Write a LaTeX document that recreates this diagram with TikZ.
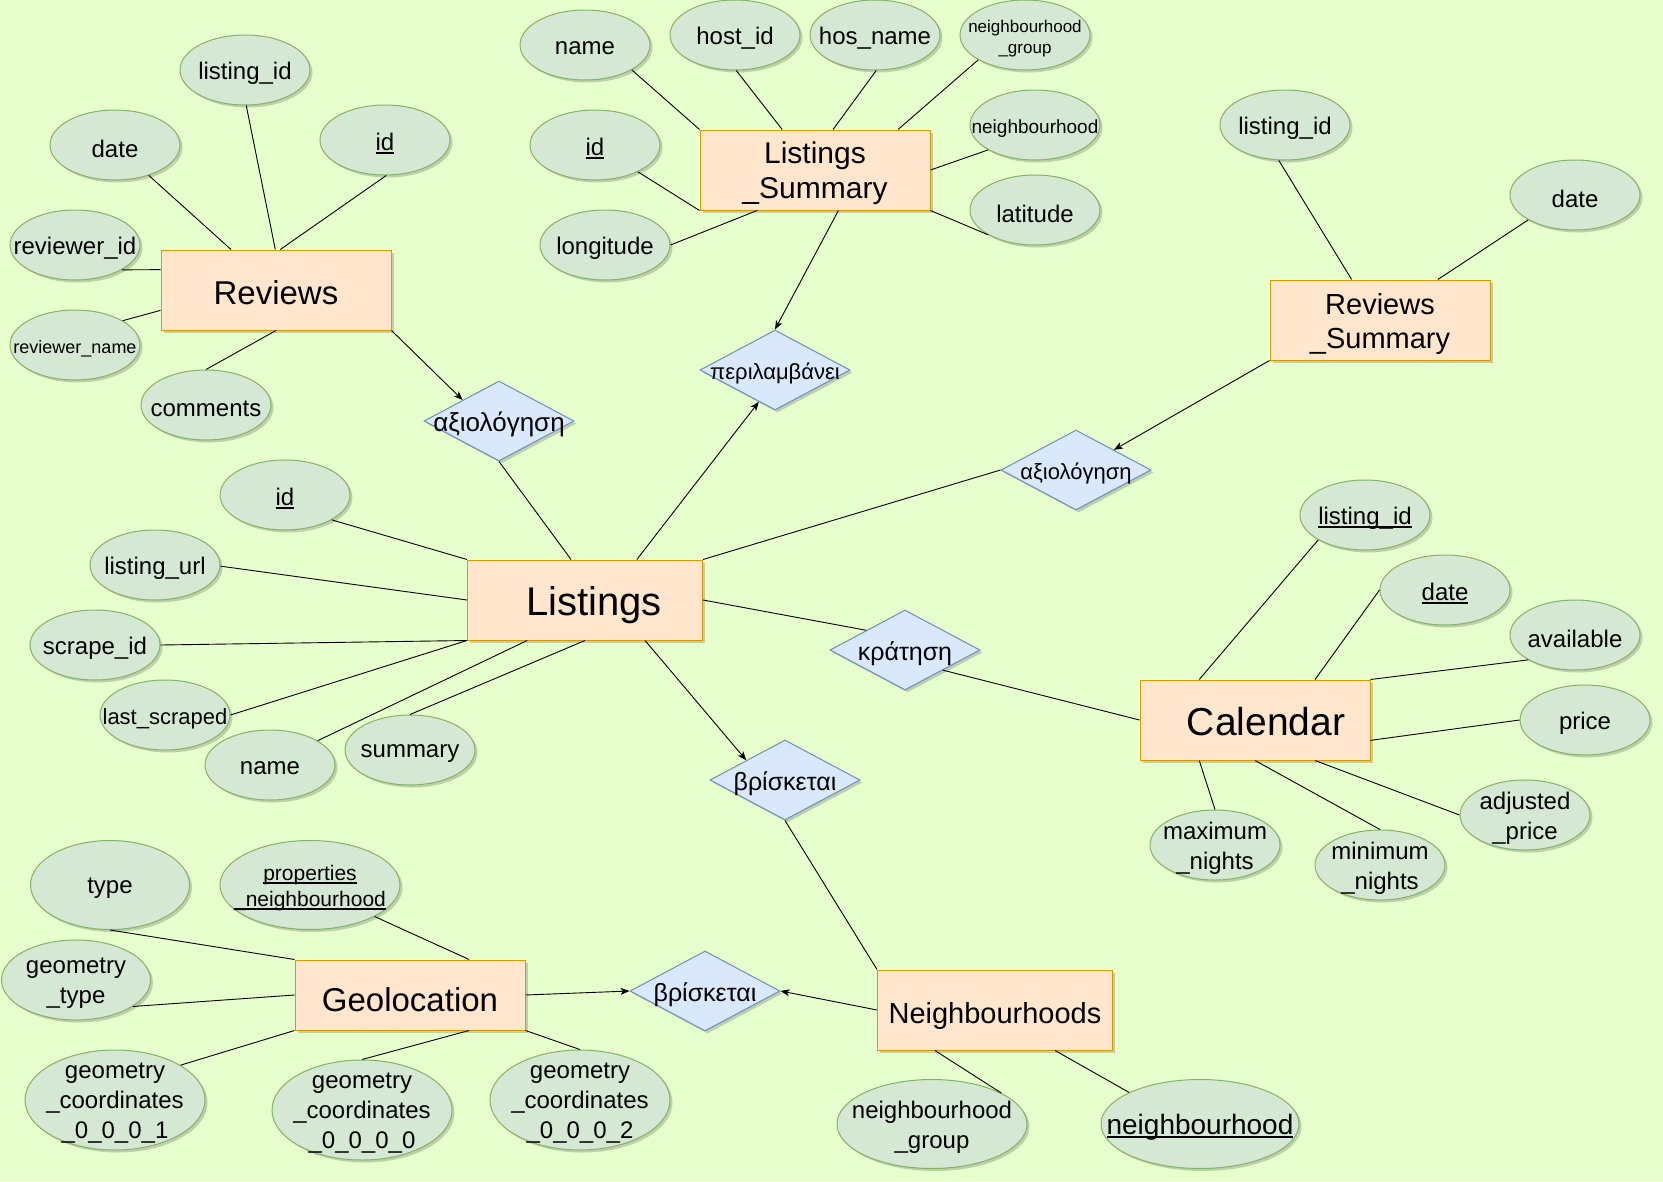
\documentclass[tikz,border=0pt]{standalone}
\usepackage{fontspec}
\setmainfont{Liberation Sans}
\usetikzlibrary{shapes.geometric,arrows.meta,shadows}

\definecolor{bgcol}{HTML}{E6FFCC}
\definecolor{attrfill}{HTML}{D5E8D4}
\definecolor{attrline}{HTML}{82B366}
\definecolor{entfill}{HTML}{FFE6CC}
\definecolor{entline}{HTML}{D79B00}
\definecolor{relfill}{HTML}{DAE8FC}
\definecolor{relline}{HTML}{6C8EBF}

\newcommand{\fsz}[2]{\fontsize{#1}{#2}\selectfont}
% underline at a fixed depth below the baseline
\newsavebox{\undlbox}
\newcommand{\undl}[1]{\sbox{\undlbox}{#1}\rlap{\rule[-0.13em]{\wd\undlbox}{0.07em}}\usebox{\undlbox}}

\tikzset{
  softshadow/.style={drop shadow={shadow xshift=2.5pt, shadow yshift=-2.5pt, fill=black, opacity=0.18}},
  attr/.style={ellipse, draw=attrline, fill=attrfill, line width=1pt,
    minimum width=130pt, minimum height=70pt, inner sep=0pt, softshadow},
  ent/.style={rectangle, draw=entline, fill=entfill, line width=1pt,
    minimum width=230pt, minimum height=80pt, inner sep=0pt, softshadow},
  rel/.style={diamond, draw=relline, fill=relfill, line width=1pt,
    minimum width=150pt, minimum height=80pt, inner sep=0pt, softshadow},
  every label/.style={font=\fsz{24}{30}, align=center, inner sep=0pt, text=black, yshift=-3.5pt},
  link/.style={draw=black, line width=0.9pt},
  arr/.style={link, -{Stealth[length=9pt, width=7pt, inset=2.5pt]}}
}

\begin{document}
\begin{tikzpicture}[x=1pt, y=-1pt]
\useasboundingbox (0,0) rectangle (1663,1181);
\fill[bgcol] (0,0) rectangle (1663,1181);

% ---------- Reviews ----------
\node[ent, label={[font=\fsz{33}{38}, yshift=0.5pt]center:Reviews}] (rev) at (276,290) {};
\node[attr, label={center:listing\_id}] (rev-lid) at (245,70) {};
\node[attr, label={center:date}] (rev-date) at (115,145) {};
\node[attr, label={center:\undl{id}}] (rev-id) at (385,140) {};
\node[attr, label={center:reviewer\_id}] (rev-rid) at (75,245) {};
\node[attr, label={[font=\fsz{18}{21}]center:reviewer\_name}] (rev-rname) at (75,345) {};
\node[attr, label={center:comments}] (rev-com) at (206,405) {};

% ---------- Listings_Summary ----------
\node[ent, label={[font=\fsz{30}{35}]center:Listings\\\_Summary}] (lsum) at (815,170) {};
\node[attr, label={center:name}] (ls-name) at (585,45) {};
\node[attr, label={center:host\_id}] (ls-host) at (735,35) {};
\node[attr, label={center:hos\_name}] (ls-hos) at (875,35) {};
\node[attr, label={[font=\fsz{17}{21}]center:neighbourhood\\\_group}] (ls-ngroup) at (1025,35) {};
\node[attr, label={[font=\fsz{19}{22}]center:neighbourhood}] (ls-nbhd) at (1035,125) {};
\node[attr, label={center:latitude}] (ls-lat) at (1035,210) {};
\node[attr, label={center:\undl{id}}] (ls-id) at (595,145) {};
\node[attr, label={center:longitude}] (ls-lon) at (605,245) {};

% ---------- Reviews_Summary ----------
\node[ent, minimum width=220pt, label={[font=\fsz{29}{34}]center:Reviews\\\_Summary}] (rsum) at (1380,320) {};
\node[attr, label={center:listing\_id}] (rs-lid) at (1285,125) {};
\node[attr, label={center:date}] (rs-date) at (1575,195) {};

% ---------- relationships ----------
\node[rel, label={[font=\fsz{22}{26}]center:περιλαμβάνει}] (incl) at (775,370) {};
\node[rel, label={[font=\fsz{26}{30}]center:αξιολόγηση}] (rate1) at (499,421) {};
\node[rel, label={[font=\fsz{22}{26}]center:αξιολόγηση}] (rate2) at (1076,470) {};
\node[rel, label={[font=\fsz{25}{29}]center:κράτηση}] (book) at (905,650) {};
\node[rel, label={[font=\fsz{25}{29}]center:βρίσκεται}] (loc1) at (785,780) {};
\node[rel, label={[font=\fsz{25}{29}]center:βρίσκεται}] (loc2) at (705,991) {};

% ---------- Listings ----------
\node[ent, minimum width=235pt, label={[font=\fsz{40}{46}, yshift=-2pt]center:\hspace*{18pt}Listings}] (lst) at (585,600) {};
\node[attr, label={center:\undl{id}}] (l-id) at (285,495) {};
\node[attr, label={center:listing\_url}] (l-url) at (155,565) {};
\node[attr, label={center:scrape\_id}] (l-scrape) at (95,645) {};
\node[attr, label={[font=\fsz{22}{26}]center:last\_scraped}] (l-last) at (165,715) {};
\node[attr, label={center:name}] (l-name) at (270,765) {};
\node[attr, label={center:summary}] (l-sum) at (410,750) {};

% ---------- Calendar ----------
\node[ent, label={[font=\fsz{39}{45}, yshift=1.5pt]center:\hspace*{22pt}Calendar}] (cal) at (1255,720) {};
\node[attr, label={center:\undl{listing\_id}}] (c-lid) at (1365,515) {};
\node[attr, label={center:\undl{date}}] (c-date) at (1445,590) {};
\node[attr, label={center:available}] (c-avail) at (1575,635) {};
\node[attr, label={center:price}] (c-price) at (1585,720) {};
\node[attr, label={center:adjusted\\\_price}] (c-adj) at (1525,815) {};
\node[attr, label={center:minimum\\\_nights}] (c-min) at (1380,865) {};
\node[attr, label={center:maximum\\\_nights}] (c-max) at (1215,845) {};

% ---------- Neighbourhoods ----------
\node[ent, minimum width=235pt, label={[font=\fsz{29}{34}, yshift=-2pt]center:Neighbourhoods}] (nbh) at (995,1010) {};
\node[attr, minimum width=190pt, minimum height=89pt, label={center:neighbourhood\\\_group}] (n-group) at (932,1124) {};
\node[attr, minimum width=198pt, minimum height=89pt, label={[font=\fsz{28}{32}]center:\undl{neighbourhood}}] (n-nb) at (1200,1124) {};

% ---------- Geolocation ----------
\node[ent, minimum height=70pt, label={[font=\fsz{33}{38}, yshift=-1.5pt]center:Geolocation}] (geo) at (410,995) {};
\node[attr, minimum width=159pt, minimum height=89pt, label={center:type}] (g-type) at (110,885) {};
\node[attr, minimum width=180pt, minimum height=89pt, label={[font=\fsz{21}{26}]center:\undl{properties}\\\undl{\_neighbourhood}}] (g-props) at (310,885) {};
\node[attr, minimum width=149pt, minimum height=80pt, label={center:geometry\\\_type}] (g-gtype) at (76,980) {};
\node[attr, minimum width=180pt, minimum height=100pt, label={center:geometry\\\_coordinates\\\_0\_0\_0\_1}] (g-c1) at (115,1100) {};
\node[attr, minimum width=180pt, minimum height=100pt, label={center:geometry\\\_coordinates\\\_0\_0\_0\_0}] (g-c0) at (362,1110) {};
\node[attr, minimum width=180pt, minimum height=100pt, label={center:geometry\\\_coordinates\\\_0\_0\_0\_2}] (g-c2) at (580,1100) {};

% ---------- connectors ----------
% Reviews
\draw[link] (rev-date.-42) -- (rev.138);
\draw[link] (rev-lid.-88) -- (rev.91);
\draw[link] (rev-id.-88) -- (rev.84);
\draw[link] (rev-rid.-28) -- (rev.170);
\draw[link] (rev-rname.27) -- (rev.190);
\draw[link] (rev-com.90) -- (rev.south);
\draw[arr] (rev.south east) -- (rate1.150);
\draw[link] (rate1.south) -- (lst.109);

% Listings_Summary
\draw[link] (ls-name.-28) -- (lsum.north west);
\draw[link] (ls-host.-88) -- (lsum.129);
\draw[link] (ls-hos.-88) -- (lsum.66);
\draw[link] (ls-ngroup.208) -- (lsum.26);
\draw[link] (ls-nbhd.208) -- (lsum.east);
\draw[link] (ls-lat.208) -- (lsum.south east);
\draw[link] (ls-id.-32) -- (lsum.south west);
\draw[link] (ls-lon.0) -- (lsum.215);
\draw[arr] (lsum.-60) -- (incl.north);

% Reviews_Summary
\draw[link] (rs-lid.-100) -- (rsum.125);
\draw[link] (rs-date.208) -- (rsum.35.5);
\draw[arr] (rsum.south west) -- (rate2.28);

% Listings
\draw[link] (l-id.-28) -- (lst.north west);
\draw[link] (l-url.-1) -- (lst.west);
\draw[link] (l-scrape.0) -- (lst.south west);
\draw[link] (l-last.0) -- (lst.south west);
\draw[link] (l-name.27) -- (lst.215);
\draw[link] (l-sum.90) -- (lst.south);
\draw[arr] (lst.38) -- (incl.-117);
\draw[link] (lst.north east) -- (rate2.west);
\draw[link] (lst.east) -- (book.153);
\draw[link] (book.-28) -- (cal.west);
\draw[arr] (lst.-34) -- (loc1.153);

% Calendar
\draw[link] (c-lid.208) -- (cal.144.5);
\draw[link] (c-date.180) -- (cal.34.6);
\draw[link] (c-avail.208) -- (cal.north east);
\draw[link] (c-price.180) -- (cal.-10);
\draw[link] (c-adj.180) -- (cal.-34.6);
\draw[link] (c-min.90) -- (cal.south);
\draw[link] (c-max.90) -- (cal.-144.5);

% Neighbourhoods
\draw[link] (loc1.south) -- (nbh.north west);
\draw[arr] (nbh.west) -- (loc2.east);
\draw[link] (n-group.24.5) -- (nbh.-146);
\draw[link] (n-nb.156.4) -- (nbh.-34);

% Geolocation
\draw[link] (g-type.-90) -- (geo.north west);
\draw[link] (g-props.-26) -- (geo.31);
\draw[link] (g-gtype.-25.5) -- (geo.west);
\draw[link] (g-c1.28.7) -- (geo.south west);
\draw[link] (g-c0.90) -- (geo.-31);
\draw[link] (g-c2.90) -- (geo.south east);
\draw[arr] (geo.east) -- (loc2.west);
\end{tikzpicture}
\end{document}
